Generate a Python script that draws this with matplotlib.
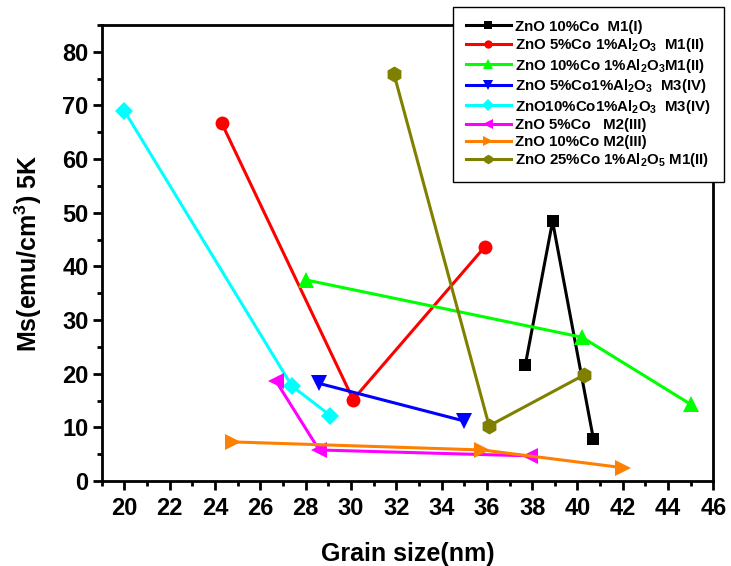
import matplotlib
matplotlib.use("Agg")
import matplotlib.pyplot as plt
from matplotlib.ticker import MultipleLocator

plt.rcParams['font.family'] = ['Liberation Sans', 'DejaVu Sans']
plt.rcParams['font.weight'] = 'bold'
plt.rcParams['mathtext.fontset'] = 'custom'
plt.rcParams['mathtext.rm'] = 'Liberation Sans:bold'
plt.rcParams['mathtext.it'] = 'Liberation Sans:bold'
plt.rcParams['mathtext.bf'] = 'Liberation Sans:bold'

# data: grain size (nm) vs Ms (emu/cm3) at 5K
x_m1_10co = [37.7, 38.9, 40.7]
y_m1_10co = [21.7, 48.4, 7.9]
x_m1_5co_al = [24.3, 30.1, 35.9]
y_m1_5co_al = [66.7, 15.2, 43.6]
x_m1_10co_al = [28.0, 40.2, 45.0]
y_m1_10co_al = [37.5, 26.8, 14.3]
x_m3_5co_al = [28.6, 35.0]
y_m3_5co_al = [18.2, 11.2]
x_m3_10co_al = [20.0, 27.4, 29.1]
y_m3_10co_al = [69.0, 17.7, 12.2]
x_m2_5co = [26.7, 28.6, 37.9]
y_m2_5co = [18.6, 5.8, 4.7]
x_m2_10co = [24.8, 35.8, 42.0]
y_m2_10co = [7.3, 5.8, 2.5]
x_m1_25co_al = [31.9, 36.1, 40.3]
y_m1_25co_al = [75.9, 10.3, 19.8]

labels = [
    "ZnO 10%Co  M1(I)",
    "ZnO 5%Co 1%Al$_2$O$_3$  M1(II)",
    "ZnO 10%Co 1%Al$_2$O$_3$M1(II)",
    "ZnO 5%Co1%Al$_2$O$_3$  M3(IV)",
    "ZnO10%Co1%Al$_2$O$_3$  M3(IV)",
    "ZnO 5%Co   M2(III)",
    "ZnO 10%Co M2(III)",
    "ZnO 25%Co 1%Al$_2$O$_5$ M1(II)",
]

series = [
    (x_m1_10co, y_m1_10co, 'black', 's', 8.7),
    (x_m1_5co_al, y_m1_5co_al, 'red', 'o', 10),
    (x_m1_10co_al, y_m1_10co_al, '#00ff00', '^', 11.5),
    (x_m3_5co_al, y_m3_5co_al, 'blue', 'v', 11.5),
    (x_m3_10co_al, y_m3_10co_al, 'cyan', 'D', 9.5),
    (x_m2_5co, y_m2_5co, 'magenta', '<', 11.5),
    (x_m2_10co, y_m2_10co, '#ff8000', '>', 11.5),
    (x_m1_25co_al, y_m1_25co_al, '#808000', 'h', 11.5),
]

fig = plt.figure(figsize=(7.31, 5.66), dpi=100)
ax = fig.add_axes([0.139, 0.150, 0.837, 0.806])

for (xs, ys, c, m, ms), lab in zip(series, labels):
    ax.plot(xs, ys, color=c, marker=m, markersize=ms, linewidth=2.2,
            markeredgewidth=0, label=lab)

ax.set_xlim(19, 46)
ax.set_ylim(0, 85)
ax.xaxis.set_major_locator(MultipleLocator(2))
ax.xaxis.set_minor_locator(MultipleLocator(1))
ax.yaxis.set_major_locator(MultipleLocator(10))
ax.yaxis.set_minor_locator(MultipleLocator(5))
ax.set_yticks(range(0, 81, 10))

for s in ax.spines.values():
    s.set_linewidth(2)
ax.tick_params(which='major', length=6.5, width=2, labelsize=17, pad=3)
ax.tick_params(axis='x', which='major', pad=5)
ax.tick_params(which='minor', length=3.5, width=2)

ax.set_xlabel("Grain size(nm)", fontsize=18, fontweight='bold', labelpad=16)
ax.set_ylabel("Ms(emu/cm$^3$) 5K", fontsize=18, fontweight='bold', labelpad=13)

leg = ax.legend(loc='upper right', bbox_to_anchor=(0.990, 0.988),
                bbox_transform=fig.transFigure, fontsize=10.8, frameon=True,
                fancybox=False, edgecolor='black', framealpha=1,
                handlelength=3.0, handletextpad=0.3, borderpad=0.85,
                borderaxespad=0, labelspacing=0.17, markerscale=0.6)
leg.get_frame().set_linewidth(1)

fig.savefig("out.png", dpi=100)
